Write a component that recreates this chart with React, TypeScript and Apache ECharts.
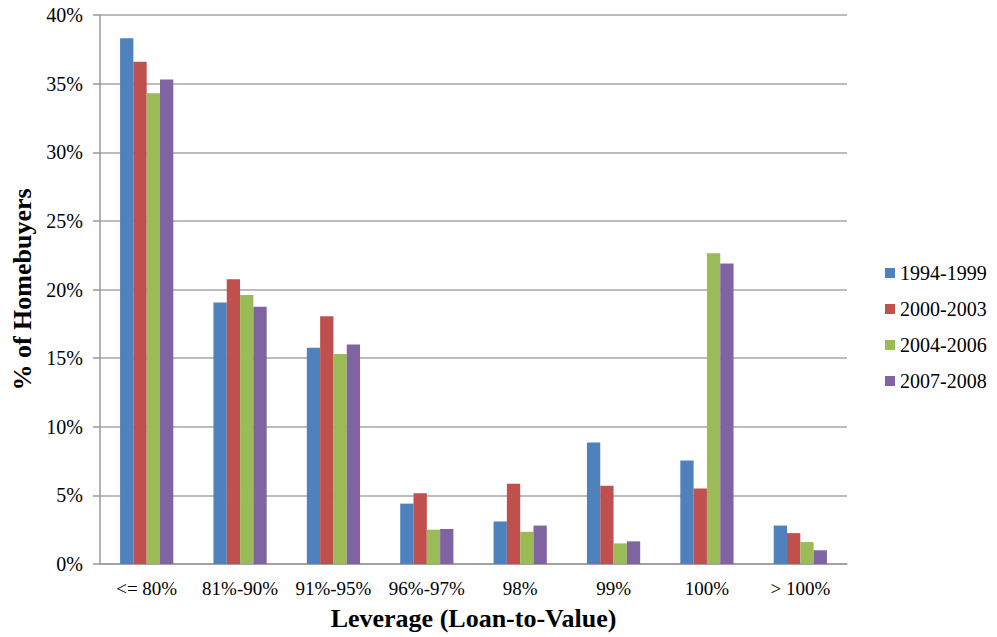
import React, { useEffect, useRef } from "react";
import * as echarts from "echarts";

const categories = ["<= 80%", "81%-90%", "91%-95%", "96%-97%", "98%", "99%", "100%", "> 100%"];
const seriesNames = ["1994-1999", "2000-2003", "2004-2006", "2007-2008"];
const s1994 = [38.3, 19.05, 15.75, 4.4, 3.1, 8.85, 7.55, 2.8];
const s2000 = [36.6, 20.75, 18.05, 5.15, 5.85, 5.7, 5.5, 2.25];
const s2004 = [34.3, 19.6, 15.3, 2.5, 2.35, 1.5, 22.65, 1.6];
const s2007 = [35.3, 18.75, 16.0, 2.55, 2.8, 1.65, 21.9, 1.0];
const colors = ["#4F81BD", "#C0504D", "#9BBB59", "#8064A2"];

const FONT = "Liberation Serif";

export default function App() {
  const ref = useRef<HTMLDivElement>(null);
  useEffect(() => {
    if (!ref.current) return;
    const chart = echarts.init(ref.current, undefined, { renderer: "svg" });
    const data = [s1994, s2000, s2004, s2007];
    chart.setOption({
      animation: false,
      backgroundColor: "#ffffff",
      textStyle: { fontFamily: FONT },
      grid: { left: 100, right: 150, top: 15, bottom: 73, containLabel: false },
      legend: {
        orient: "vertical",
        left: 880,
        top: 258,
        itemWidth: 10,
        itemHeight: 10,
        itemGap: 16,
        icon: "rect",
        textStyle: { fontFamily: FONT, fontSize: 20, color: "#000" },
        data: seriesNames,
      },
      xAxis: {
        type: "category",
        data: categories,
        name: "Leverage (Loan-to-Value)",
        nameLocation: "middle",
        nameGap: 41,
        nameTextStyle: { fontFamily: FONT, fontSize: 26, fontWeight: "bold", color: "#000" },
        axisLine: { lineStyle: { color: "#999", width: 1.5 } },
        axisTick: { show: false },
        axisLabel: { fontFamily: FONT, fontSize: 19, color: "#000", margin: 15, interval: 0 },
      },
      yAxis: {
        type: "value",
        min: 0,
        max: 40,
        interval: 5,
        name: "% of Homebuyers",
        nameLocation: "middle",
        nameGap: 65,
        nameTextStyle: { fontFamily: FONT, fontSize: 26, fontWeight: "bold", color: "#000" },
        axisLine: { show: true, lineStyle: { color: "#999", width: 1.5 } },
        axisTick: { show: true, length: 7, lineStyle: { color: "#999", width: 1.5 } },
        splitLine: { lineStyle: { color: "#a6a6a6", width: 1.5 } },
        axisLabel: { fontFamily: FONT, fontSize: 20, color: "#000", margin: 17, formatter: "{value}%" },
      },
      series: seriesNames.map((name, i) => ({
        name,
        type: "bar",
        data: data[i],
        barGap: "0%",
        barCategoryGap: "43%",
        itemStyle: { color: colors[i] },
      })),
    });
    return () => chart.dispose();
  }, []);
  return <div ref={ref} style={{ position: "fixed", left: 0, top: 0, width: 997, height: 637 }} />;
}
